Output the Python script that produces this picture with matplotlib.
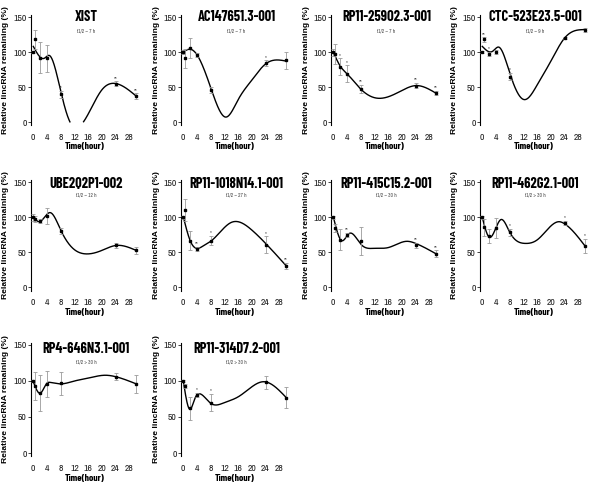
import numpy as np
import matplotlib
matplotlib.use("Agg")
import matplotlib.pyplot as plt

# ---------------- data ----------------
NAMES = ["XIST", "AC147651.3-001", "RP11-259O2.3-001", "CTC-523E23.5-001",
         "UBE2Q2P1-002", "RP11-1018N14.1-001", "RP11-415C15.2-001", "RP11-462G2.1-001",
         "RP4-646N3.1-001", "RP11-314D7.2-001"]
HALFLIFE = ["t1/2 ~ 7 h", "t1/2 ~ 7 h", "t1/2 ~ 7 h", "t1/2 ~ 9 h",
            "t1/2 ~ 12 h", "t1/2 ~ 27 h", "t1/2 ~ 30 h", "t1/2 > 30 h",
            "t1/2 > 30 h", "t1/2 > 30 h"]
TIMES = [0, 0.5, 2, 4, 8, 24, 30]
XTICKS = [0, 4, 8, 12, 16, 20, 24, 28]
YTICKS = [0, 50, 100, 150]

MEANS = [
    [100, 118, 92, 91, 40, 55, 37],
    [100, 91, 106, 96, 46, 84, 88],
    [100, 97, 79, 69, 47, 52, 41],
    [100, 118, 97, 100, 65, 120, 132],
    [100, 98, 95, 102, 81, 60, 53],
    [100, 111, 67, 55, 67, 61, 31],
    [100, 85, 68, 75, 66, 60, 48],
    [100, 86, 74, 85, 79, 92, 59],
    [100, 93, 84, 96, 97, 106, 96],
    [100, 93, 62, 81, 70, 98, 77],
]
ERRS = [
    [2, 14, 22, 19, 5, 3, 4],
    [3, 14, 14, 3, 4, 4, 12],
    [5, 14, 12, 12, 6, 4, 3],
    [2, 3, 3, 3, 5, 2, 3],
    [5, 4, 3, 12, 4, 3, 5],
    [2, 16, 14, 3, 7, 12, 4],
    [2, 6, 15, 3, 20, 4, 5],
    [2, 12, 10, 14, 5, 3, 10],
    [2, 19, 25, 18, 16, 5, 13],
    [2, 3, 16, 3, 12, 9, 14],
]
STARS = [
    ["", "", "", "", "**", "**", "**"],
    ["", "", "", "", "", "*", ""],
    ["", "", "*", "*", "**", "**", "**"],
    ["", "**", "*", "", "*", "", ""],
    ["", "", "", "", "", "", ""],
    ["", "", "", "**", "*", "*", "**"],
    ["", "", "", "**", "", "**", "**"],
    ["", "", "", "", "*", "*", "*"],
    ["", "", "", "", "", "", ""],
    ["", "", "", "*", "*", "", ""],
]
# smooth fitted curve, read at a few times from the picture
FIT_T = [
    [0, 3.2, 4.7, 8, 10.7, 14.6, 20, 24, 30],
    [0, 2, 4, 8, 12.4, 16, 20, 24, 30],
    [0, 2, 4, 8, 12.8, 16, 20, 24, 30],
    [0, 3, 4.8, 8, 12.2, 16, 20, 24, 30],
    [0, 1.8, 4.9, 8, 12, 15.3, 20, 24, 30],
    [0, 2, 3.8, 6, 8, 14, 20, 24, 30],
    [0, 2.4, 4.6, 8, 12, 16, 21.5, 24, 30],
    [0, 2, 5.4, 8, 12.4, 16, 22.4, 24, 30],
    [0, 2, 4, 5, 8, 12, 16, 21, 24, 30],
    [0, 1.8, 3.5, 5, 8, 12, 16, 20, 23.3, 30],
]
FIT_V = [
    [108, 91, 95, 44, 0, 0, 46, 55, 37],
    [100, 104, 96, 49, 7, 32, 60, 83, 87],
    [100, 80, 69, 47, 34, 36, 45, 52, 41],
    [108, 101, 107, 70, 32, 53, 87, 120, 132],
    [101, 94, 107, 82, 54, 48, 53, 60, 53],
    [101, 67, 56, 60, 66, 93, 82, 63, 31],
    [101, 67, 77, 62, 56, 57, 66, 63, 48],
    [100, 72, 97, 79, 63, 68, 94, 91, 59],
    [99, 83, 97, 98, 96, 100, 104, 108, 106, 96],
    [100, 61, 77, 82, 69, 70, 78, 92, 99, 77],
]


def natural_spline(x, y, xs):
    x = np.asarray(x, float)
    y = np.asarray(y, float)
    n = len(x)
    h = np.diff(x)
    A = np.zeros((n, n))
    b = np.zeros(n)
    A[0, 0] = 1
    A[-1, -1] = 1
    for i in range(1, n - 1):
        A[i, i - 1] = h[i - 1]
        A[i, i] = 2 * (h[i - 1] + h[i])
        A[i, i + 1] = h[i]
        b[i] = 6 * ((y[i + 1] - y[i]) / h[i] - (y[i] - y[i - 1]) / h[i - 1])
    M = np.linalg.solve(A, b)
    idx = np.clip(np.searchsorted(x, xs) - 1, 0, n - 2)
    x0, x1 = x[idx], x[idx + 1]
    hh = x1 - x0
    a = (x1 - xs) / hh
    bb = (xs - x0) / hh
    return (a * y[idx] + bb * y[idx + 1]
            + ((a ** 3 - a) * M[idx] + (bb ** 3 - bb) * M[idx + 1]) * hh ** 2 / 6)


NARROW = ["Archivo Narrow", "DejaVu Sans"]
NARROW_B = ["Barlow Condensed", "DejaVu Sans"]
WIDE = ["Liberation Sans", "DejaVu Sans"]

W, H = 600, 486
fig = plt.figure(figsize=(6, 4.86), dpi=100)

COL_LEFT = [31, 181, 331, 480]
ROW_Y150 = [17, 182.5, 345]
ROW_Y0 = [122, 287.5, 453]
TITLE_Y = [17, 184, 349]
SUB_Y = [31, 195, 362]
XLIM = (-0.67, 33)
YLIM = (-4.5, 153)
PXH = 3.43

for k, name in enumerate(NAMES):
    r, c = divmod(k, 4)
    scale = (ROW_Y0[r] - ROW_Y150[r]) / 150.0
    top = ROW_Y150[r] - (YLIM[1] - 150) * scale
    bot = ROW_Y0[r] - YLIM[0] * scale
    left = COL_LEFT[c]
    width = (XLIM[1] - XLIM[0]) * PXH
    ax = fig.add_axes([left / W, 1 - bot / H, width / W, (bot - top) / H])
    ax.set_xlim(*XLIM)
    ax.set_ylim(*YLIM)
    for s in ["top", "right", "bottom"]:
        ax.spines[s].set_visible(False)
    ax.spines["left"].set_linewidth(0.8)
    ax.set_xticks(XTICKS)
    ax.set_yticks(YTICKS)
    ax.tick_params(axis="y", length=2, width=0.6, pad=1, labelsize=7, colors="#222222")
    ax.tick_params(axis="x", length=0, pad=5.5, labelsize=7, colors="#222222")
    for lab in ax.get_xticklabels() + ax.get_yticklabels():
        lab.set_family(NARROW)

    # curve
    ts = np.linspace(0, 30, 400)
    vs = natural_spline(FIT_T[k], FIT_V[k], ts)
    vs = np.where(vs < 0, np.nan, vs)
    ax.plot(ts, vs, color="black", lw=1.0, zorder=3)

    # error bars and points
    ax.errorbar(TIMES, MEANS[k], yerr=ERRS[k], fmt="s", ms=2.0, color="black",
                ecolor="#9a9a9a", elinewidth=0.6, capsize=1.3, capthick=0.6, zorder=4)
    for t, m, e, st in zip(TIMES, MEANS[k], ERRS[k], STARS[k]):
        if st:
            ax.text(t, m + e + 1, st, fontsize=3.5, ha="center", va="bottom",
                    color="#333333", family=WIDE, zorder=5)

    # titles
    cx = (left + width * 0.48) / W
    fig.text(cx, 1 - TITLE_Y[r] / H, name, ha="center", va="center",
             fontsize=10.3, fontweight="bold", family=NARROW_B)
    fig.text(cx, 1 - SUB_Y[r] / H, HALFLIFE[k], ha="center", va="center",
             fontsize=3.8, color="#444444", family=NARROW)
    # axis labels
    fig.text((left + (15 - XLIM[0]) * PXH) / W, 1 - (ROW_Y0[r] + 25) / H, "Time(hour)",
             ha="center", va="center", fontsize=7, fontweight="bold", family=NARROW_B)
    fig.text((left - 25) / W, 1 - ((top + bot) / 2) / H, "Relative lincRNA remaining (%)",
             ha="center", va="center", rotation=90, fontsize=6.1, fontweight="bold",
             family=WIDE)

fig.savefig("out.png", dpi=100)
